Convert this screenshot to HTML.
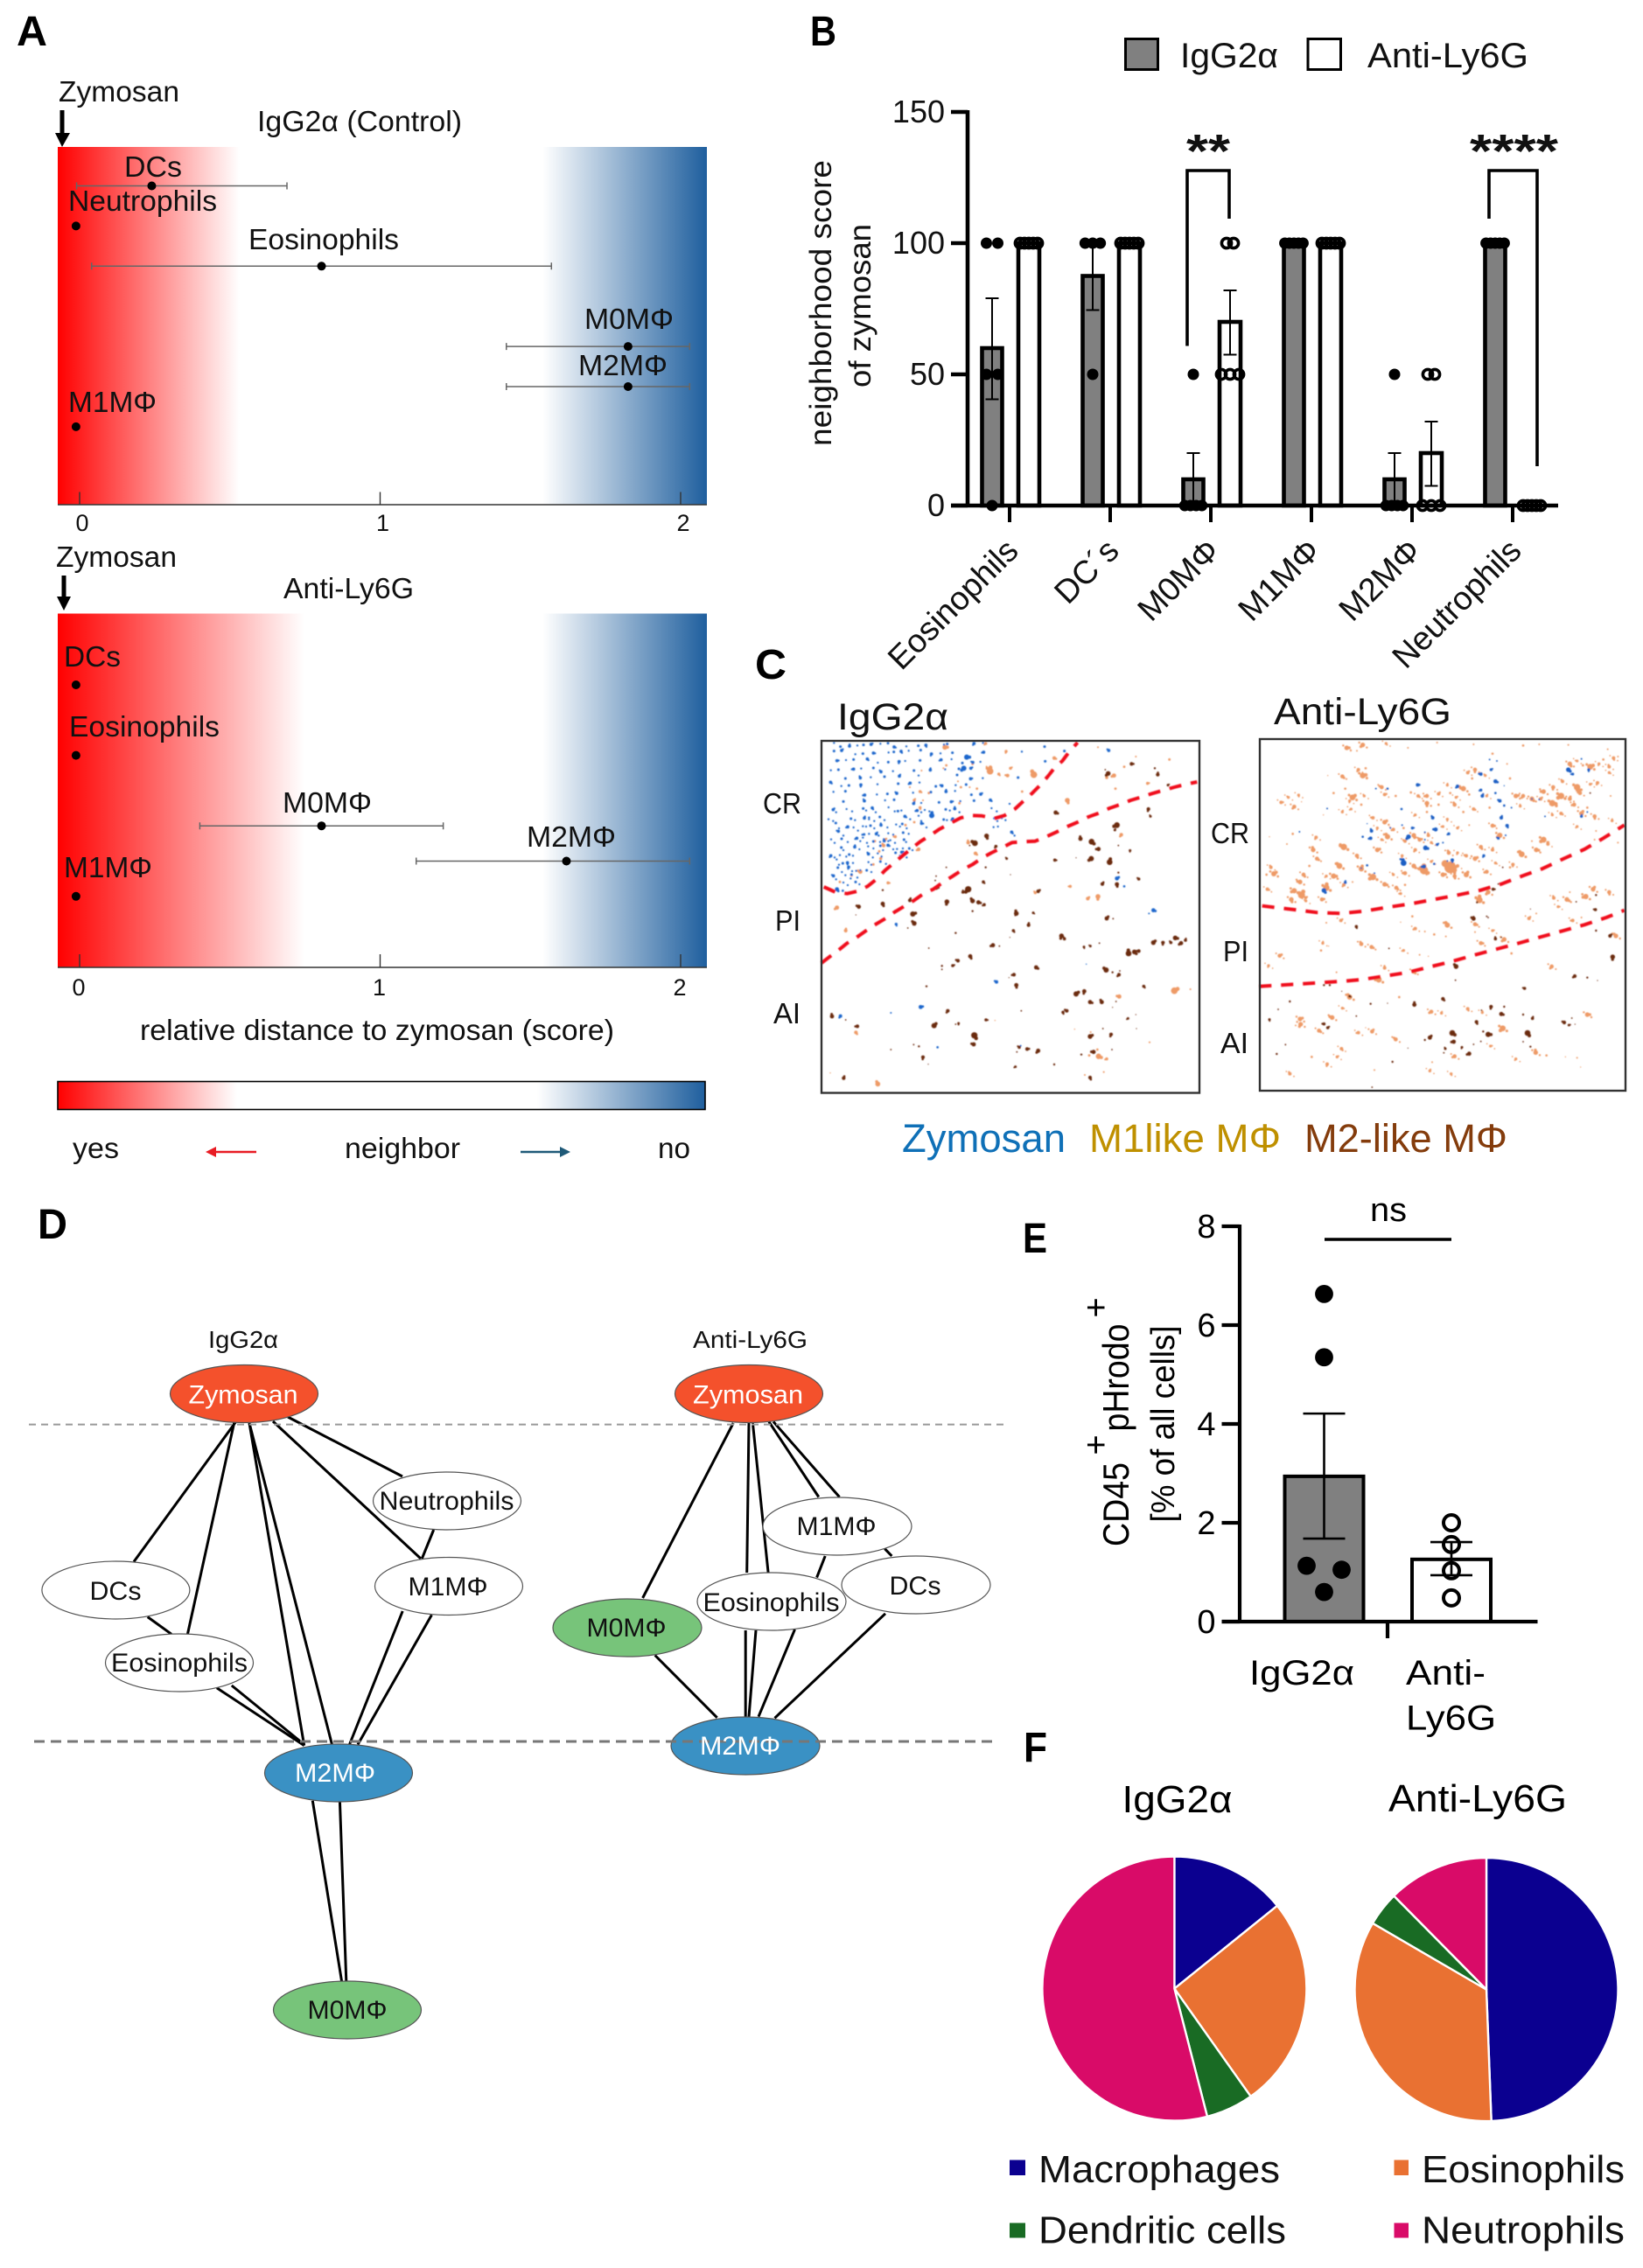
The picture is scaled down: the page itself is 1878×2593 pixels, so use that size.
<!DOCTYPE html>
<html lang="en">
<head>
<meta charset="utf-8">
<title>Zymosan neighborhood analysis figure</title>
<style>
html,body{margin:0;padding:0;background:#fff}
svg{display:block}
text{font-family:"Liberation Sans",sans-serif;fill:#111}
.pl{font-weight:bold;font-size:48px;fill:#000}
</style>
</head>
<body>
<svg id="fig" xmlns="http://www.w3.org/2000/svg" width="1878" height="2593" viewBox="0 0 1878 2593">
<defs>
<linearGradient id="gradA1" x1="0" x2="1" y1="0" y2="0"><stop offset="0" stop-color="#ff0000"/><stop offset=".28" stop-color="#ffffff"/><stop offset=".747" stop-color="#ffffff"/><stop offset="1" stop-color="#1f5f9e"/></linearGradient>
<linearGradient id="gradA2" x1="0" x2="1" y1="0" y2="0"><stop offset="0" stop-color="#ff0000"/><stop offset=".38" stop-color="#ffffff"/><stop offset=".747" stop-color="#ffffff"/><stop offset="1" stop-color="#1f5f9e"/></linearGradient>
<linearGradient id="gradBar" x1="0" x2="1" y1="0" y2="0"><stop offset="0" stop-color="#ff0000"/><stop offset=".277" stop-color="#ffffff"/><stop offset=".74" stop-color="#ffffff"/><stop offset="1" stop-color="#1f5f9e"/></linearGradient>
<filter id="soft" x="-2%" y="-2%" width="104%" height="104%"><feGaussianBlur stdDeviation="0.45"/></filter>
</defs>

<!-- Panel letters -->
<text class="pl" x="19" y="52" textLength="35">A</text>
<text class="pl" x="926" y="52" textLength="30">B</text>
<text class="pl" x="863" y="776" textLength="36">C</text>
<text class="pl" x="43" y="1416" textLength="34">D</text>
<text class="pl" x="1169" y="1432" textLength="28">E</text>
<text class="pl" x="1170" y="2014" textLength="27">F</text>

<!-- Panel A -->
<g id="panelA">
<text x="67" y="116" font-size="33" textLength="138">Zymosan</text>
<rect x="68.5" y="126" width="5" height="28" fill="#000"/>
<polygon points="63,152 80,152 71,168" fill="#000"/>
<text x="294" y="150" font-size="33" textLength="234">IgG2α (Control)</text>
<rect x="66" y="168" width="742" height="409" fill="url(#gradA1)"/>
<g id="a1marks"></g>
<text x="142" y="202" font-size="33" textLength="66">DCs</text>
<text x="78" y="241" font-size="33" textLength="170">Neutrophils</text>
<text x="284" y="285" font-size="33" textLength="172">Eosinophils</text>
<text x="668" y="376" font-size="33" textLength="102">M0MΦ</text>
<text x="661" y="429" font-size="33" textLength="102">M2MΦ</text>
<text x="78" y="471" font-size="33" textLength="101">M1MΦ</text>

<text x="64" y="648" font-size="33" textLength="138">Zymosan</text>
<rect x="70.5" y="658" width="5" height="26" fill="#000"/>
<polygon points="65,682 81,682 73,698" fill="#000"/>
<text x="324" y="684" font-size="33" textLength="149">Anti-Ly6G</text>
<rect x="66" y="701.5" width="742" height="404.5" fill="url(#gradA2)"/>
<g id="a2marks"></g>
<text x="73" y="762" font-size="33" textLength="65">DCs</text>
<text x="79" y="842" font-size="33" textLength="172">Eosinophils</text>
<text x="323" y="929" font-size="33" textLength="102">M0MΦ</text>
<text x="602" y="968" font-size="33" textLength="102">M2MΦ</text>
<text x="73" y="1003" font-size="33" textLength="101">M1MΦ</text>
<text x="160" y="1189" font-size="33" textLength="542">relative distance to zymosan (score)</text>

<rect x="66" y="1236.5" width="740" height="32" fill="url(#gradBar)" stroke="#000" stroke-width="1.6"/>
<text x="83" y="1324" font-size="33" textLength="53">yes</text>
<line x1="293" y1="1317" x2="244" y2="1317" stroke="#e81b23" stroke-width="2.6"/>
<polygon points="235,1317 247,1311 247,1323" fill="#e81b23"/>
<text x="394" y="1324" font-size="33" textLength="132">neighbor</text>
<line x1="595" y1="1317" x2="643" y2="1317" stroke="#1f5a78" stroke-width="2.6"/>
<polygon points="652,1317 640,1311 640,1323" fill="#1f5a78"/>
<text x="752" y="1324" font-size="33" textLength="37">no</text>
</g>

<!-- Panel B -->
<g id="panelB">
<rect x="1286.5" y="44.5" width="37" height="35" fill="#808080" stroke="#000" stroke-width="3"/>
<text x="1349" y="77" font-size="40" textLength="112">IgG2α</text>
<rect x="1495" y="44.5" width="37.5" height="35" fill="#fff" stroke="#000" stroke-width="3"/>
<text x="1563" y="77" font-size="40" textLength="184">Anti-Ly6G</text>
<text transform="translate(950,346.5) rotate(-90)" text-anchor="middle" font-size="35" textLength="327" fill="#222">neighborhood score</text>
<text transform="translate(995,349.5) rotate(-90)" text-anchor="middle" font-size="35" textLength="187" fill="#222">of zymosan</text>
<g id="bMarks"></g>
<path d="M1357,395.5V195H1405V250" fill="none" stroke="#000" stroke-width="3.6"/>
<text x="1356" y="191" font-size="54" font-weight="bold" textLength="50" fill="#000">**</text>
<path d="M1702,250V195H1757V533" fill="none" stroke="#000" stroke-width="3.6"/>
<text x="1680" y="191" font-size="54" font-weight="bold" textLength="101" fill="#000">****</text>
</g>

<!-- Panel C -->
<g id="panelC">
<text x="957" y="834" font-size="43" textLength="127">IgG2α</text>
<text x="1456" y="828" font-size="43" textLength="203">Anti-Ly6G</text>
<g id="cMarks" filter="url(#soft)"></g>
<rect x="939" y="847" width="432" height="402.5" fill="none" stroke="#333" stroke-width="2.4"/>
<rect x="1440" y="845" width="418" height="402" fill="none" stroke="#333" stroke-width="2.4"/>
<text x="872" y="930" font-size="33" textLength="44">CR</text>
<text x="886" y="1064" font-size="33" textLength="29">PI</text>
<text x="884" y="1170" font-size="33" textLength="31">AI</text>
<text x="1384" y="964" font-size="33" textLength="44">CR</text>
<text x="1398" y="1099" font-size="33" textLength="29">PI</text>
<text x="1395" y="1204" font-size="33" textLength="32">AI</text>
<text x="1031" y="1317" font-size="45" textLength="187" style="fill:#0f70b7">Zymosan</text>
<text x="1245" y="1317" font-size="45" textLength="219" style="fill:#bf9000">M1like MΦ</text>
<text x="1491" y="1317" font-size="45" textLength="232" style="fill:#843c0c">M2-like MΦ</text>
</g>

<!-- Panel D -->
<g id="panelD">
<text x="238" y="1541" font-size="28" textLength="80">IgG2α</text>
<text x="792" y="1541" font-size="28" textLength="131">Anti-Ly6G</text>
<g stroke="#000" stroke-width="3">
<line x1="270" y1="1625" x2="153" y2="1785.5"/>
<line x1="268" y1="1625" x2="214.5" y2="1868"/>
<line x1="285" y1="1627" x2="347.7" y2="1995.6"/>
<line x1="285" y1="1627" x2="379.5" y2="1994.5"/>
<line x1="312" y1="1625" x2="481" y2="1782"/>
<line x1="329" y1="1620" x2="460" y2="1688"/>
<line x1="495.7" y1="1749" x2="482.3" y2="1782"/>
<line x1="168.7" y1="1848.6" x2="196" y2="1868.3"/>
<line x1="247.8" y1="1929.8" x2="347.7" y2="1995.6"/>
<line x1="264.8" y1="1927" x2="347.7" y2="1994.5"/>
<line x1="460.2" y1="1842" x2="399.5" y2="1994.5"/>
<line x1="493.4" y1="1846.4" x2="409" y2="1994.5"/>
<line x1="357.3" y1="2058.7" x2="390.6" y2="2265.4"/>
<line x1="388.4" y1="2058.7" x2="395.8" y2="2265.4"/>
</g>
<g stroke="#000" stroke-width="3">
<line x1="838.2" y1="1627" x2="734.6" y2="1827"/>
<line x1="856" y1="1627" x2="853.7" y2="1798"/>
<line x1="860.4" y1="1627" x2="878.1" y2="1798"/>
<line x1="852.2" y1="1864" x2="852.2" y2="1962.7"/>
<line x1="864" y1="1864" x2="856" y2="1962.7"/>
<line x1="878.9" y1="1625.4" x2="935.8" y2="1711.5"/>
<line x1="884" y1="1625.4" x2="959.5" y2="1711.5"/>
<line x1="1011.3" y1="1770.7" x2="1019.4" y2="1779"/>
<line x1="943.2" y1="1779" x2="933.6" y2="1803.6"/>
<line x1="908.5" y1="1862.9" x2="867" y2="1962.7"/>
<line x1="1012" y1="1844.8" x2="885.5" y2="1964.3"/>
<line x1="748.7" y1="1892.5" x2="819.7" y2="1963.8"/>
</g>
<g stroke="#555" stroke-width="1.2" fill="#fff">
<ellipse cx="511" cy="1716" rx="84.5" ry="33"/>
<ellipse cx="513" cy="1813.5" rx="84.5" ry="33"/>
<ellipse cx="132.4" cy="1818" rx="84.5" ry="33"/>
<ellipse cx="205" cy="1901" rx="84.5" ry="33"/>
<ellipse cx="279" cy="1593.5" rx="84.5" ry="33" fill="#f4512c"/>
<ellipse cx="387" cy="2027" rx="84.5" ry="33" fill="#3a91c4"/>
<ellipse cx="397" cy="2298" rx="84.5" ry="33" fill="#77c47a"/>
<ellipse cx="957" cy="1745" rx="85" ry="33"/>
<ellipse cx="1047" cy="1812" rx="85" ry="33"/>
<ellipse cx="882" cy="1831" rx="85" ry="33"/>
<ellipse cx="856" cy="1593.5" rx="84.5" ry="33" fill="#f4512c"/>
<ellipse cx="717" cy="1861" rx="85" ry="33" fill="#77c47a"/>
<ellipse cx="852" cy="1996" rx="85" ry="33" fill="#3a91c4"/>
</g>
<line x1="33" y1="1628.6" x2="1148" y2="1628.6" stroke="#999" stroke-width="2" stroke-dasharray="8 6"/>
<line x1="39" y1="1991" x2="1136" y2="1991" stroke="#777" stroke-width="3" stroke-dasharray="12 7"/>
<g font-size="30" text-anchor="middle">
<text x="278" y="1604.5" textLength="125" style="fill:#fff">Zymosan</text>
<text x="510.5" y="1726" textLength="154">Neutrophils</text>
<text x="512" y="1824" textLength="91">M1MΦ</text>
<text x="132" y="1829" textLength="59">DCs</text>
<text x="205" y="1911" textLength="156">Eosinophils</text>
<text x="383" y="2037" textLength="92" style="fill:#fff">M2MΦ</text>
<text x="397" y="2308" textLength="91">M0MΦ</text>
<text x="855" y="1604.5" textLength="126" style="fill:#fff">Zymosan</text>
<text x="956" y="1755" textLength="91">M1MΦ</text>
<text x="1046" y="1823" textLength="59">DCs</text>
<text x="881.5" y="1842" textLength="156">Eosinophils</text>
<text x="716" y="1871" textLength="91">M0MΦ</text>
<text x="846" y="2006" textLength="92" style="fill:#fff">M2MΦ</text>
</g>
</g>

<!-- Panel E -->
<g id="panelE">
<text transform="translate(1290,1720) rotate(-90)" text-anchor="middle" font-size="42" textLength="96" style="fill:#000">CD45</text>
<text transform="translate(1266,1652) rotate(-90)" text-anchor="middle" font-size="40" style="fill:#000">+</text>
<text transform="translate(1290,1575) rotate(-90)" text-anchor="middle" font-size="42" textLength="123" style="fill:#000">pHrodo</text>
<text transform="translate(1266,1495) rotate(-90)" text-anchor="middle" font-size="40" style="fill:#000">+</text>
<text transform="translate(1342,1628) rotate(-90)" text-anchor="middle" font-size="38" textLength="225" style="fill:#000">[% of all cells]</text>
<g id="eMarks"></g>
<line x1="1514" y1="1417" x2="1659" y2="1417" stroke="#000" stroke-width="3.6"/>
<text x="1566" y="1396" font-size="38" textLength="42" style="fill:#000">ns</text>
<text x="1428" y="1926" font-size="40" textLength="120" style="fill:#000">IgG2α</text>
<text x="1607" y="1926" font-size="40" textLength="91" style="fill:#000">Anti-</text>
<text x="1607" y="1977.5" font-size="40" textLength="103" style="fill:#000">Ly6G</text>
</g>

<!-- Panel F -->
<g id="panelF">
<text x="1282.5" y="2072" font-size="44" textLength="126" style="fill:#000">IgG2α</text>
<text x="1587" y="2071" font-size="44" textLength="204" style="fill:#000">Anti-Ly6G</text>
<g id="fMarks"></g>
<rect x="1154" y="2469.5" width="18" height="17.5" fill="#0b0090"/>
<text x="1187" y="2495" font-size="44" textLength="276">Macrophages</text>
<rect x="1154" y="2541.5" width="18" height="17" fill="#196b24"/>
<text x="1187" y="2564.5" font-size="44" textLength="283">Dendritic cells</text>
<rect x="1593.5" y="2469.5" width="16.5" height="17.5" fill="#e97132"/>
<text x="1625" y="2495" font-size="44" textLength="232">Eosinophils</text>
<rect x="1593.5" y="2541.5" width="16.5" height="17" fill="#d90b68"/>
<text x="1625" y="2564.5" font-size="44" textLength="232">Neutrophils</text>
</g>
</svg>

<script>
/* ---------- Panel A data ---------- */
const aTicks = [0, 1, 2];
const a1Rows = [0, 1, 2, 4, 5, 6];
const a1Means = [0.24, -0.012, 0.805, 1.825, 1.825, -0.012];
const a1Low = [-0.01, null, 0.04, 1.42, 1.42, null];
const a1High = [0.69, null, 1.57, 2.03, 2.03, null];
const a2Rows = [0, 2, 4, 5, 6];
const a2Means = [-0.012, -0.012, 0.805, 1.62, -0.012];
const a2Low = [null, null, 0.40, 1.12, null];
const a2High = [null, null, 1.21, 2.03, null];

/* ---------- Panel B data ---------- */
const bCategories = ['Eosinophils', 'DC´s', 'M0MΦ', 'M1MΦ', 'M2MΦ', 'Neutrophils'];
const bTicks = [0, 50, 100, 150];
const bIggMeans = [60, 87.5, 10, 100, 10, 100];
const bIggLow = [40.5, 74.5, 0, 100, 0, 100];
const bIggHigh = [79, 100, 20, 100, 20, 100];
const bAntiMeans = [100, 100, 70, 100, 20, 0];
const bAntiLow = [100, 100, 57.5, 100, 7.5, 0];
const bAntiHigh = [100, 100, 82, 100, 32, 0];
const bIggPoints = [[100, 100, 50, 50, 0], [100, 100, 100, 50], [50, 0, 0, 0, 0], [100, 100, 100, 100, 100], [50, 0, 0, 0, 0], [100, 100, 100, 100, 100]];
const bAntiPoints = [[100, 100, 100, 100, 100], [100, 100, 100, 100, 100], [100, 100, 50, 50, 50], [100, 100, 100, 100, 100], [50, 50, 0, 0, 0], [0, 0, 0, 0, 0]];

/* ---------- Panel E data ---------- */
const eTicks = [0, 2, 4, 6, 8];
const eMeans = [2.94, 1.26];
const eLow = [1.68, 0.94];
const eHigh = [4.21, 1.61];
const eIggPoints = [6.63, 5.35, 1.13, 1.05, 0.6];
const eAntiPoints = [2.0, 1.56, 1.03, 0.48];

/* ---------- Panel F data ---------- */
const fLabels = ['Macrophages', 'Eosinophils', 'Dendritic cells', 'Neutrophils'];
const fIgg = [14.2, 26, 5.8, 54];
const fAnti = [49.4, 34, 4.2, 12.4];

/* ---------- Panel C tissue marks (x, y, radius in 3x crop units) ---------- */
const cBlueRows = [
[20,[60,75,110,130,155,185,210,240,265,300,345,375,430,445,530,565,780]],
[45,[55,85,125,155,195,240,262,280,310,355,385,420,465,565,700,850,995]],
[75,[60,95,125,165,205,245,275,300,355,420,460,490,530,560,775]],
[105,[45,75,120,150,185,215,260,325,385,440,480,525]],
[130,[90,145,185,225,280,350,475,525,560,685]],
[155,[45,75,105,150,200,275,320,345,405,430,470,510]],
[185,[50,95,165,200,240,265,325,390,435,470,530,555]],
[215,[90,155,230,265,325,355,420,455,490,530,590,660]],
[240,[50,100,150,185,245,270,340,370,435,470,600]],
[270,[40,110,160,180,210,300,340,430,465,600,630]],
[295,[60,105,150,180,220,265,290,360,600]],
[320,[75,135,160,195,240,295,660]],
[345,[45,85,130,155,195,225,250,290]],
[370,[75,125,175,210,240,275,310]],
[395,[45,80,105,175,200,265,290]],
[420,[60,85,105,170,215]],
[445,[70,100,130,170]],
[470,[50,95,120]],
[490,[90,125]]
];
const cLeftBlueBig = [510,62,9,500,100,9,390,262,9,65,515,7,85,520,4,1025,478,7,1050,505,4,1100,480,4,1150,587,7,1135,598,3,900,335,3,268,635,5,612,833,6,352,919,7,77,950,6,410,1057,4,250,939,3,920,772,2,695,1052,3];
const cLeftBrown = [1075,85,7,995,118,9,1165,122,7,1155,100,4,985,105,3,1200,158,5,1133,240,7,1140,265,5,815,252,8,1025,295,11,1018,312,5,578,332,9,538,357,11,520,365,3,610,368,6,900,342,8,938,352,11,962,377,8,1030,365,3,1070,382,5,647,410,5,812,415,6,937,410,10,1000,422,11,885,407,2,575,440,4,440,440,3,1030,458,4,660,465,2,405,470,3,402,485,3,975,497,7,1025,498,8,1100,480,6,405,510,8,515,515,12,497,525,6,567,490,6,222,518,4,755,522,7,442,558,9,530,555,9,550,560,8,570,568,6,315,553,7,222,565,8,140,575,8,325,600,10,265,590,5,680,598,9,738,596,5,530,590,4,990,615,8,130,603,2,
330,632,9,308,648,3,680,602,5,722,638,7,670,657,6,1012,616,3,472,665,4,835,675,9,845,685,6,658,680,2,600,707,8,622,710,3,912,713,5,934,710,5,965,700,3,380,717,3,1065,735,11,1085,730,9,1100,727,7,1150,698,9,1183,698,7,1210,698,6,1225,682,9,1245,700,8,1260,690,6,522,745,8,480,760,7,462,777,6,425,778,4,425,790,3,748,783,8,672,808,7,655,818,2,680,844,8,988,792,10,1010,800,4,1032,808,7,1035,795,3,1117,848,6,372,848,4,885,874,10,913,865,8,973,902,8,933,902,8,1022,900,3,1010,920,2,840,937,6,853,932,7,697,932,3,445,932,7,48,951,8,95,963,3,135,985,7,398,983,10,482,975,5,472,978,3,576,963,6,1063,958,5,1090,945,2,536,1016,12,534,1047,8,933,1020,9,1005,1013,7,977,993,3,1092,993,2,328,1048,3,346,1054,4,250,1065,3,690,1057,6,717,1063,7,755,1069,8,682,1073,3,903,1082,4,945,1073,8,1008,1065,3,360,1091,7,378,1115,2,810,1116,4,677,1124,5,88,1163,7,933,1161,7];
const cLeftOrange = [435,28,8,575,15,5,590,110,11,620,120,5,650,125,6,660,100,5,645,42,5,740,122,11,810,65,6,1015,125,7,990,132,5,855,210,8,700,180,4,1130,152,5,1040,328,6,515,355,6,540,392,6,865,505,5,925,547,6,960,540,8,745,527,5,240,493,5,65,578,7,1050,95,4,1090,60,3,1205,70,4,1020,170,4,960,28,3,580,100,5,350,180,5,380,185,4,330,210,5,350,235,5,490,165,4,485,220,4,545,170,4,520,165,3,300,295,4,265,335,5,230,345,5,195,350,4,225,365,6,210,385,4,345,378,6,215,410,5,190,430,4,145,455,7,115,468,4,75,490,4,330,285,4,440,90,4,430,100,3,355,108,3,530,85,4,480,145,3,315,165,3,360,210,3,
95,657,6,130,1006,6,1033,883,7,1222,863,11,1277,858,3,205,1183,8,962,1088,9,990,1097,5,930,1085,4,958,1065,4,1137,1040,3,915,1152,3,980,1142,3,42,1145,2,935,1005,3,880,995,2,607,965,2];
const cRightOrange = [310,30,8,365,20,8,345,40,3,445,15,5,520,30,3,620,12,3,745,18,3,915,22,4,970,18,3,1070,20,3,1205,35,3,1225,65,6,1240,60,3,365,125,10,350,105,6,375,100,4,295,128,7,245,125,2,725,115,6,750,105,7,785,125,5,740,135,4,810,50,4,860,85,3,1075,85,8,1100,75,5,1145,95,10,1175,85,5,1210,95,6,1210,115,5,1190,70,4,1120,90,4,145,192,5,110,200,5,85,217,6,130,232,7,155,215,2,265,185,4,305,170,4,330,200,10,320,212,5,370,195,5,360,225,4,325,240,5,295,250,5,230,260,2,430,165,7,440,190,6,478,195,4,530,183,4,555,195,6,585,195,7,625,188,6,585,220,8,625,225,4,585,250,4,545,260,5,655,158,5,665,185,4,710,170,9,685,200,5,730,190,4,680,225,7,745,240,6,710,250,4,790,195,5,800,235,4,870,135,4,890,195,8,915,195,7,905,230,5,945,205,8,985,180,8,975,205,6,1018,165,7,1050,145,6,1015,220,11,1045,195,11,1075,205,7,1100,165,11,1110,185,7,1145,155,5,1170,150,6,1015,260,5,1045,255,6,1090,225,7,1115,255,8,1160,265,7,1135,235,4,1215,195,3,1100,300,5,1220,280,5,1165,315,3,400,270,6,440,285,8,415,305,5,450,335,9,430,345,5,470,310,6,505,305,4,540,330,8,510,350,6,560,345,7,545,380,6,590,330,6,600,355,5,640,300,5,690,305,5,655,275,5,730,295,3,810,297,7,835,330,9,810,380,6,770,370,7,720,400,6,750,410,8,690,390,5,660,390,7,820,425,5,790,455,7,720,465,9,680,470,7,665,440,20,640,465,8,690,435,6,575,450,14,540,435,8,510,460,7,600,420,5,500,400,5,470,465,5,440,498,8,400,473,11,360,445,9,345,400,7,300,370,11,415,380,8,205,337,6,195,380,8,208,410,7,182,435,4,125,325,4,105,360,3,285,435,10,265,470,9,240,470,5,240,510,11,162,465,7,150,490,8,60,462,9,35,465,4,50,440,6,38,515,6,130,520,9,155,535,12,120,550,8,170,555,5,225,550,7,300,500,6,330,490,3,480,510,7,495,530,5,510,500,4,880,430,6,910,395,10,960,380,8,985,345,10,1000,360,6,945,350,3,870,440,4,1160,345,3,1240,355,3,1020,545,6,1065,550,8,1130,540,9,1155,515,8,1210,525,7,1075,525,3,1035,575,5,795,525,8,765,552,11,960,598,3,45,335,2,
290,622,6,240,630,3,655,638,9,750,635,7,545,650,6,578,660,3,610,670,4,650,677,3,810,657,5,750,662,3,535,608,4,495,628,2,1085,622,6,935,615,6,1115,612,3,1233,675,8,770,700,7,850,687,8,228,700,5,222,725,4,248,710,2,80,743,7,42,777,5,360,703,7,395,713,7,505,725,5,520,735,2,560,740,3,590,745,2,875,735,4,1013,780,7,440,785,6,540,798,7,420,825,10,275,800,3,490,885,4,320,885,9,295,923,5,600,935,7,635,940,5,725,925,6,260,955,8,150,960,8,152,978,8,135,982,3,215,1000,7,350,1007,6,397,1003,7,375,990,2,478,1030,7,1135,945,8,845,992,10,775,938,5,292,1062,6,190,1090,4,277,1090,5,243,1115,6,115,1148,6,405,1135,3,680,1088,7,595,1138,5,668,1148,5,603,1108,3,803,1053,5,890,1097,5,958,1075,8,995,1085,4,1100,1093,3,1060,1090,2,1112,1125,2];
const cRightBlue = [553,157,6,690,162,6,450,170,4,410,170,3,770,120,6,805,105,5,800,70,3,825,75,3,820,145,7,770,175,5,775,195,6,820,185,4,835,212,6,875,235,3,850,228,4,850,160,2,1070,105,8,1085,120,5,1115,68,3,1140,105,5,945,205,3,970,207,3,990,265,3,1115,265,5,1135,250,3,243,238,3,498,240,4,148,318,3,395,315,6,380,290,2,392,340,6,365,335,4,460,305,3,500,295,3,535,305,5,522,335,8,578,320,3,578,345,3,615,310,7,620,362,5,640,355,3,605,270,6,580,373,8,660,325,5,840,270,6,860,297,6,830,340,5,855,330,3,780,400,5,505,425,10,495,412,4,575,437,7,610,428,4,672,415,6,380,433,4,360,443,3,405,460,3,305,492,5,232,519,8,655,418,3];
const cRightBrown = [812,515,6,830,497,3,1145,185,3,1165,535,4,1163,585,6,1097,558,3,940,583,2,745,610,4,790,608,3,845,440,3,757,560,4,343,643,6,745,616,8,795,612,3,455,718,3,820,685,6,840,680,3,1165,657,4,1213,675,7,1222,747,9,685,780,9,683,827,3,1092,813,7,1135,818,4,1170,828,2,920,855,6,232,844,4,252,844,4,293,865,2,320,882,5,115,900,4,75,927,3,45,962,5,343,950,3,392,908,4,450,906,2,542,911,8,640,891,7,232,977,6,245,990,6,805,918,7,772,930,3,840,943,8,915,945,4,947,958,6,755,970,7,1056,972,7,1072,981,5,1082,957,3,1093,978,2,672,1008,11,677,1038,8,595,1024,8,578,1032,4,778,1003,4,795,1013,10,770,1037,3,745,1047,3,930,1008,11,915,1038,3,940,1055,4,705,1057,5,648,1062,5,643,1076,3,730,1079,8,100,1048,3,70,1080,4,520,1060,2,467,1107,4,397,1194,3,850,918,4];
const cLeftCurve1 = [20,507,60,525,100,530,135,522,170,505,205,477,230,450,260,425,290,400,325,372,350,352,385,330,415,310,455,288,490,270,525,262,560,263,605,272,640,262,675,240,705,212,735,185,760,160,788,128,810,100,838,75,860,45,890,12];
const cLeftCurve2 = [12,768,38,748,65,728,100,700,130,682,165,657,190,640,232,615,260,595,298,572,330,553,362,530,395,515,430,490,462,470,497,447,530,430,562,408,595,390,632,372,665,355,707,352,745,350,782,335,815,320,855,300,890,285,925,268,960,255,1000,237,1035,225,1072,210,1105,200,1145,187,1180,177,1222,165,1260,155,1300,147];
const cRightCurve1 = [20,572,130,585,210,595,290,598,370,590,450,577,530,565,610,550,690,535,770,518,840,497,910,470,980,445,1050,412,1125,378,1190,340,1262,295];
const cRightCurve2 = [10,848,130,841,210,836,290,831,360,825,440,813,520,800,600,780,670,763,750,740,825,720,900,700,970,680,1050,658,1125,637,1200,612,1262,587];

/* ---------- helpers ---------- */
const SVGNS = 'http://www.w3.org/2000/svg';
function mk(tag, attrs, parent, txt) {
  const e = document.createElementNS(SVGNS, tag);
  for (const k in attrs) e.setAttribute(k, attrs[k]);
  if (txt !== undefined) e.textContent = txt;
  parent.appendChild(e);
  return e;
}
function swarmOffsets(vals, hollow) {
  const counts = {}, seen = {};
  vals.forEach(v => { counts[v] = (counts[v] || 0) + 1; });
  return vals.map(v => {
    const n = counts[v];
    const step = hollow ? (n === 2 ? 8 : n === 3 ? 10 : 5) : 26 / n;
    const i = seen[v] = (seen[v] === undefined ? 0 : seen[v] + 1);
    return (i - (n - 1) / 2) * step;
  });
}

/* ---------- Panel A ---------- */
const aX = v => 91 + 343.5 * v;
function drawDistance(gId, rows, means, low, high, rowY, axisY, tickTop, labelY, labelDx) {
  const g = document.getElementById(gId);
  const axis = mk('line', {x1: 66, x2: 808, y1: axisY, y2: axisY, stroke: '#333', 'stroke-width': 1.6}, g);
  
  
  aTicks.forEach((t, i) => {
    const tick = mk('line', {x1: aX(t), x2: aX(t), y1: tickTop, y2: axisY, stroke: '#333', 'stroke-width': 1.4}, g);
    
    
    const lab = mk('text', {x: aX(t) + labelDx, y: labelY, 'font-size': 27, 'text-anchor': 'middle'}, g, String(t));
    
    
  });
  rows.forEach((r, i) => {
    const y = rowY(r);
    if (low[i] !== null) {
      const whisk = mk('path', {d: `M${aX(low[i])},${y - 4}v8M${aX(low[i])},${y}H${aX(high[i])}M${aX(high[i])},${y - 4}v8`, fill: 'none', stroke: '#666', 'stroke-width': 1.5}, g);
      
      
    }
    const dot = mk('circle', {cx: aX(means[i]), cy: y, r: 5, fill: '#000'}, g);
    
    
  });
}
drawDistance('a1marks', a1Rows, a1Means, a1Low, a1High, r => 212.5 + 45.9 * r, 577, 562.5, 607, 3);
drawDistance('a2marks', a2Rows, a2Means, a2Low, a2High, r => 783 + 40.3 * r, 1106, 1091, 1138, -1);

/* ---------- Panel B ---------- */
const bY = v => 578 - 3 * v;
const bX = i => 1154 + 115 * i;
(function () {
  const g = document.getElementById('bMarks');
  bCategories.forEach((c, i) => {
    const groups = [
      {cx: bX(i) - 20, w: 23, mean: bIggMeans[i], lo: bIggLow[i], hi: bIggHigh[i], pts: bIggPoints[i], fill: '#808080', name: 'bar-igg2a', hollow: false},
      {cx: bX(i) + 22, w: 24, mean: bAntiMeans[i], lo: bAntiLow[i], hi: bAntiHigh[i], pts: bAntiPoints[i], fill: '#ffffff', name: 'bar-anti-ly6g', hollow: true}
    ];
    groups.forEach(s => {
      const bar = mk('rect', {x: s.cx - s.w / 2, y: bY(s.mean), width: s.w, height: Math.max(0, bY(0) - bY(s.mean)), fill: s.fill, stroke: '#000', 'stroke-width': 4.6}, g);
      
      
      if (s.hi !== s.lo) {
        const er = mk('path', {d: `M${s.cx - 7.5},${bY(s.hi)}h15M${s.cx},${bY(s.hi)}V${bY(s.lo)}M${s.cx - 7.5},${bY(s.lo)}h15`, fill: 'none', stroke: '#000', 'stroke-width': 2}, g);
        
        
      }
      const off = swarmOffsets(s.pts, s.hollow);
      s.pts.forEach((v, k) => {
        const dot = mk('circle', {cx: s.cx + off[k], cy: bY(v), r: s.hollow ? 5.6 : 6.5, fill: s.hollow ? 'none' : '#000', stroke: s.hollow ? '#000' : 'none', 'stroke-width': 3.6}, g);
        
        
      });
    });
    const tick = mk('line', {x1: bX(i), x2: bX(i), y1: 578, y2: 597, stroke: '#000', 'stroke-width': 4}, g);
    
    
    const lab = mk('text', {transform: `translate(${bX(i) + 12},632) rotate(-45)`, 'text-anchor': 'end', 'font-size': 37.5, fill: '#222'}, g, c);
    
    
  });
  const ya = mk('line', {x1: 1106, x2: 1106, y1: 126, y2: 580, stroke: '#000', 'stroke-width': 4.6}, g);
  
  
  const xa = mk('line', {x1: 1087, x2: 1781, y1: 578, y2: 578, stroke: '#000', 'stroke-width': 4.6}, g);
  
  
  bTicks.forEach(t => {
    const tk = mk('line', {x1: 1087, x2: 1106, y1: bY(t), y2: bY(t), stroke: '#000', 'stroke-width': 4.6}, g);
    
    
    const lb = mk('text', {x: 1080, y: bY(t) + 12, 'font-size': 36, 'text-anchor': 'end', fill: '#222'}, g, String(t));
    
    
  });
})();

/* ---------- Panel C ---------- */
function speck(g, x, y, r, color, name) {
  const c = mk('circle', {cx: x, cy: y, r: r, fill: color}, g);
  
  
}
function speckle(g, ox, oy, list, color, name, gain) {
  for (let i = 0; i < list.length; i += 3) {
    const x = ox + list[i] / 3, y = oy + list[i + 1] / 3, raw = list[i + 2], r = raw / 3 * gain;
    const a = i * 0.8;
    speck(g, x, y, r, color, name);
    if (raw >= 5) speck(g, x + Math.cos(a) * r * 1.1, y + Math.sin(a) * r * 1.1, r * 0.6, color, name);
  }
}
function satellites(list, dx, dy) {
  const out = [];
  for (let i = 0; i < list.length; i += 3) {
    if (list[i + 2] >= 5) out.push(list[i] + dx, list[i + 1] + dy, Math.max(2.5, list[i + 2] * 0.45));
  }
  return out;
}
function curve(g, ox, oy, list, name) {
  let d = '';
  for (let i = 0; i < list.length; i += 2) d += (i ? 'L' : 'M') + (ox + list[i] / 3).toFixed(1) + ',' + (oy + list[i + 1] / 3).toFixed(1);
  const p = mk('path', {d, fill: 'none', stroke: '#f0101c', 'stroke-width': 4, 'stroke-dasharray': '14 11', 'stroke-linejoin': 'round'}, g);
  
  
}
(function () {
  const g = document.getElementById('cMarks');
  const lx = 935, ty = 845, rx = 1436;
  const blueFlat = [];
  cBlueRows.forEach((row, idx) => row[1].forEach((x, j) => {
    blueFlat.push(x + ((j * 7 + idx * 5) % 11) - 5, row[0] + ((j * 13 + idx * 3) % 15) - 7, 3.5 + (j + idx) % 3);
    if (row[0] >= 240) blueFlat.push(x + 12 + (j * 5) % 7, row[0] + 11 - (j * 3) % 9, 3.5);
  }));
  speckle(g, lx, ty, cLeftOrange, '#ee9a66', 'm1-like-cell', 1.05);
  speckle(g, lx, ty, blueFlat, '#1f66cc', 'zymosan-particle', 1.0);
  speckle(g, lx, ty, cLeftBlueBig, '#1f66cc', 'zymosan-particle', 1.0);
  speckle(g, lx, ty, cLeftBrown, '#6b2a10', 'm2-like-cell', 0.9);
  speckle(g, rx, ty, cRightOrange, '#ee9a66', 'm1-like-cell', 1.0);
  speckle(g, rx, ty, satellites(cRightOrange, 14, 9), '#ee9a66', 'm1-like-cell', 1.0);
  speckle(g, rx, ty, satellites(cRightOrange, -12, -8), '#ee9a66', 'm1-like-cell', 1.0);
  speckle(g, rx, ty, cRightBlue, '#1f5fc4', 'zymosan-particle', 1.0);
  speckle(g, rx, ty, cRightBrown, '#6b2a10', 'm2-like-cell', 0.9);
  curve(g, lx, ty, cLeftCurve1, 'region-boundary-cr-pi-igg2a');
  curve(g, lx, ty, cLeftCurve2, 'region-boundary-pi-ai-igg2a');
  curve(g, rx, ty, cRightCurve1, 'region-boundary-cr-pi-anti-ly6g');
  curve(g, rx, ty, cRightCurve2, 'region-boundary-pi-ai-anti-ly6g');
})();

/* ---------- Panel E ---------- */
const eY = v => 1854 - 56.5 * v;
(function () {
  const g = document.getElementById('eMarks');
  const centers = [1513.5, 1659];
  const fills = ['#808080', '#ffffff'];
  eMeans.forEach((m, i) => {
    const bar = mk('rect', {x: centers[i] - 45, y: eY(m), width: 90, height: eY(0) - eY(m), fill: fills[i], stroke: '#000', 'stroke-width': 4}, g);
    
    
  });
  eIggPoints.forEach((v, i) => {
    const near = eIggPoints.findIndex((w, k) => k !== i && Math.abs(w - v) < 0.2);
    const dx = near < 0 ? 0 : (near > i ? -20 : 20);
    const d = mk('circle', {cx: centers[0] + dx, cy: eY(v), r: 10.4, fill: '#000'}, g);
    
    
  });
  eAntiPoints.forEach(v => {
    const d = mk('circle', {cx: centers[1], cy: eY(v), r: 9, fill: 'none', stroke: '#000', 'stroke-width': 4}, g);
    
    
  });
  eMeans.forEach((m, i) => {
    const c = centers[i];
    const er = mk('path', {d: `M${c - 24},${eY(eHigh[i])}h48M${c},${eY(eHigh[i])}V${eY(eLow[i])}M${c - 24},${eY(eLow[i])}h48`, fill: 'none', stroke: '#000', 'stroke-width': 2.6}, g);
    
    
  });
  const ya = mk('line', {x1: 1417, x2: 1417, y1: 1400, y2: 1856, stroke: '#000', 'stroke-width': 4.2}, g);
  
  
  const xa = mk('line', {x1: 1396.5, x2: 1757.5, y1: 1854, y2: 1854, stroke: '#000', 'stroke-width': 4.2}, g);
  
  
  const xt = mk('line', {x1: 1586, x2: 1586, y1: 1854, y2: 1873, stroke: '#000', 'stroke-width': 4.2}, g);
  
  
  eTicks.forEach(t => {
    const tk = mk('line', {x1: 1396.5, x2: 1417, y1: eY(t), y2: eY(t), stroke: '#000', 'stroke-width': 4.2}, g);
    
    
    const lb = mk('text', {x: 1389.5, y: eY(t) + 13, 'font-size': 38, 'text-anchor': 'end', style: 'fill:#000'}, g, String(t));
    
    
  });
})();

/* ---------- Panel F ---------- */
const fColors = ['#0b0090', '#e97132', '#196b24', '#d90b68'];
function drawPie(vals, cx, cy, r, prefix) {
  const g = document.getElementById('fMarks');
  const total = vals.reduce((a, b) => a + b, 0);
  let a0 = 0;
  vals.forEach((v, i) => {
    const a1 = a0 + v / total * 2 * Math.PI;
    const large = a1 - a0 > Math.PI ? 1 : 0;
    const d = `M${cx},${cy}L${cx + r * Math.sin(a0)},${cy - r * Math.cos(a0)}A${r},${r} 0 ${large} 1 ${cx + r * Math.sin(a1)},${cy - r * Math.cos(a1)}Z`;
    const s = mk('path', {d, fill: fColors[i], stroke: '#fff', 'stroke-width': 2.4, 'stroke-linejoin': 'round'}, g);
    
    
    a0 = a1;
  });
}
drawPie(fIgg, 1342.4, 2273.6, 151, 'igg2a');
drawPie(fAnti, 1699, 2274.6, 150.5, 'anti-ly6g');

/* stretch labels to their measured widths */
document.querySelectorAll('text[textLength]').forEach(t => t.setAttribute('lengthAdjust', 'spacingAndGlyphs'));
</script>
</body>
</html>
